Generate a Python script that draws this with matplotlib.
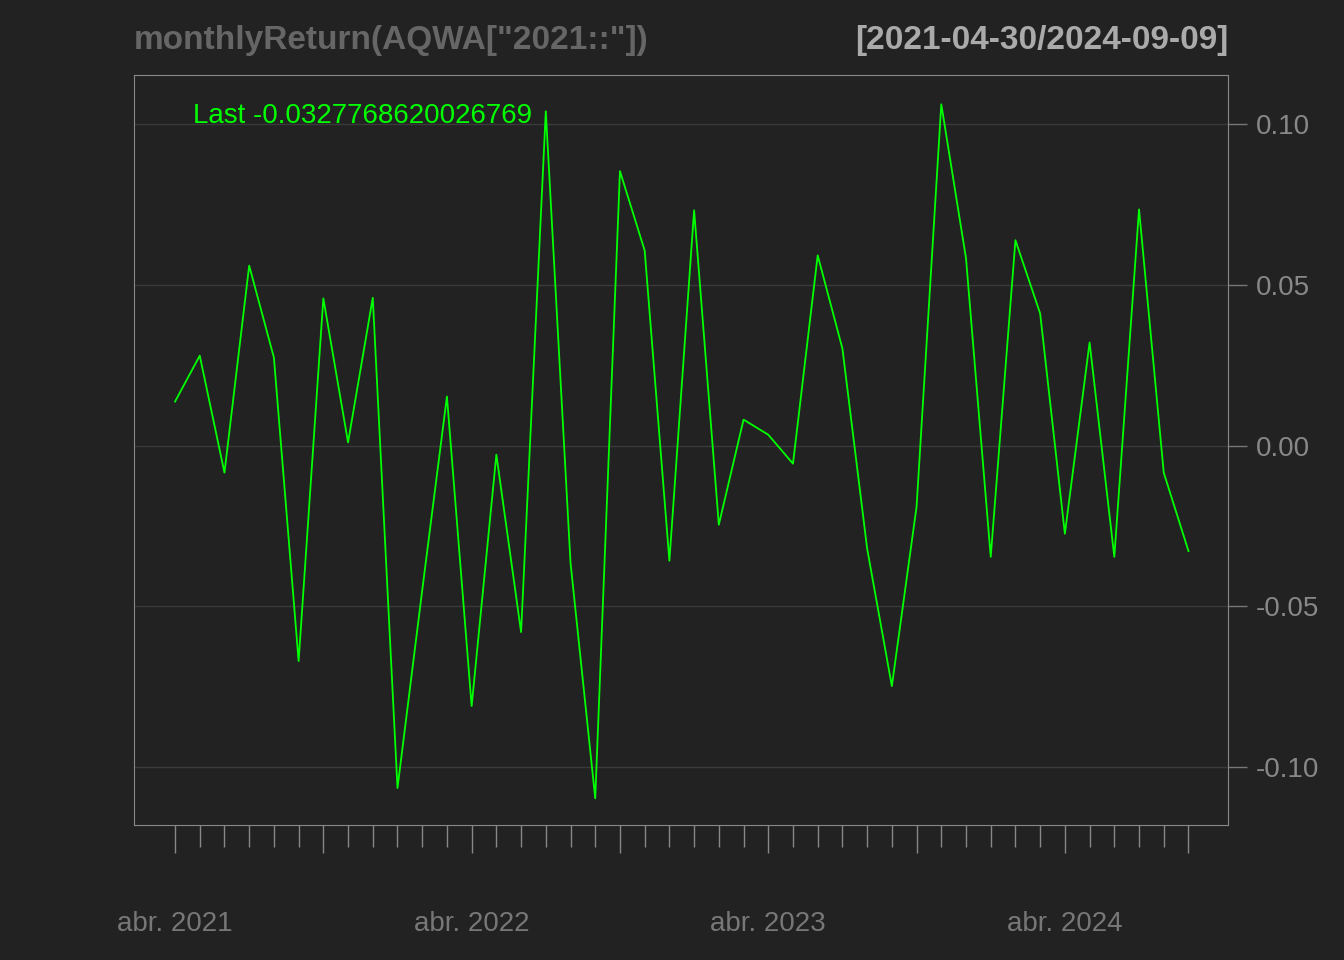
import matplotlib
matplotlib.use("Agg")
import matplotlib.pyplot as plt

plt.rcParams['font.family'] = ['Liberation Sans', 'DejaVu Sans']

# monthly returns, Apr 2021 .. Sep 2024
months = ["2021-04", "2021-05", "2021-06", "2021-07", "2021-08", "2021-09", "2021-10",
          "2021-11", "2021-12", "2022-01", "2022-02", "2022-03", "2022-04", "2022-05",
          "2022-06", "2022-07", "2022-08", "2022-09", "2022-10", "2022-11", "2022-12",
          "2023-01", "2023-02", "2023-03", "2023-04", "2023-05", "2023-06", "2023-07",
          "2023-08", "2023-09", "2023-10", "2023-11", "2023-12", "2024-01", "2024-02",
          "2024-03", "2024-04", "2024-05", "2024-06", "2024-07", "2024-08", "2024-09"]
returns = [0.0137, 0.0280, -0.0084, 0.0560, 0.0274, -0.0670, 0.0458, 0.0010, 0.0460,
           -0.1065, -0.0450, 0.0153, -0.0810, -0.0028, -0.0580, 0.1040, -0.0364, -0.1097,
           0.0854, 0.0607, -0.0358, 0.0732, -0.0246, 0.0081, 0.0034, -0.0056, 0.0592,
           0.0302, -0.0320, -0.0748, -0.0190, 0.1062, 0.0583, -0.0346, 0.0639, 0.0411,
           -0.0274, 0.0321, -0.0346, 0.0735, -0.0084, -0.0327768620026769]
label_idx = [0, 12, 24, 36]
label_txt = ["abr. 2021", "abr. 2022", "abr. 2023", "abr. 2024"]
major_idx = [0, 6, 12, 18, 24, 30, 36, 41]
y_ticks = [-0.10, -0.05, 0.00, 0.05, 0.10]

bg = "#222222"
fig = plt.figure(figsize=(13.44, 9.6), dpi=100, facecolor=bg)
ax = fig.add_axes([0.0997, 0.1406, 0.814, 0.7813], facecolor=bg)

x = list(range(len(returns)))
ax.plot(x, returns, color="#00ff00", lw=1.3)

ax.set_xlim(-1.66, 42.6)
ax.set_ylim(-0.118, 0.1153)

for v in y_ticks:
    ax.axhline(v, color="#3a3a3a", lw=1, zorder=0)

ax.yaxis.tick_right()
ax.set_yticks(y_ticks)
ax.set_yticklabels(["%.2f" % v for v in y_ticks])
ax.tick_params(axis="y", colors="#777777", labelcolor="#888888", labelsize=20,
               length=14, width=1, pad=6)

ax.set_xticks(x, minor=True)
ax.set_xticks(major_idx)
ax.set_xticklabels([""] * len(major_idx))
ax.tick_params(axis="x", which="both", colors="#888888", length=20, width=1)
ax.tick_params(axis="x", which="minor", length=16)
for i, t in zip(label_idx, label_txt):
    ax.annotate(t, xy=(i, 0), xycoords=("data", "axes fraction"),
                xytext=(0, -71), textcoords="offset points",
                ha="center", va="center", color="#777777", fontsize=20)

for s in ax.spines.values():
    s.set_color("#888888")

ax.text(0.054, 0.945, "Last -0.0327768620026769", transform=ax.transAxes,
        color="#00ff00", fontsize=20, va="center")

fig.text(0.0997, 0.958, 'monthlyReturn(AQWA["2021::"])', color="#666666",
         fontsize=24, fontweight="bold", va="center")
fig.text(0.9137, 0.958, "[2021-04-30/2024-09-09]", color="#aaaaaa",
         fontsize=24, fontweight="bold", va="center", ha="right")

fig.savefig("out.png", dpi=100, facecolor=bg)
